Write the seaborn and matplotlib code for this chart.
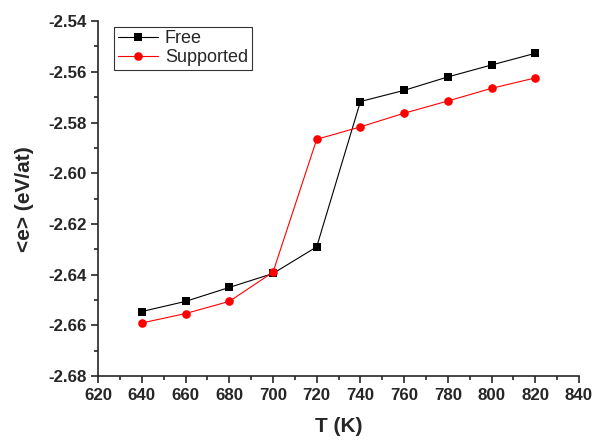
import pandas as pd
import matplotlib
matplotlib.use("Agg")
import matplotlib.pyplot as plt
import seaborn as sns
from matplotlib.ticker import MultipleLocator

temps = [640, 660, 680, 700, 720, 740, 760, 780, 800, 820]
free = [-2.6545, -2.6505, -2.645, -2.6395, -2.629, -2.5717, -2.5673, -2.562, -2.5573, -2.5527]
supported = [-2.659, -2.6553, -2.6505, -2.639, -2.5866, -2.5817, -2.5763, -2.5715, -2.5665, -2.5624]

df = pd.DataFrame({
    "T": temps * 2,
    "e": free + supported,
    "kind": ["Free"] * len(temps) + ["Supported"] * len(temps),
})

sns.set_style("ticks")
plt.rcParams['font.family'] = ['Liberation Sans', 'DejaVu Sans']

fig = plt.figure(figsize=(5.95, 4.4), dpi=100)
ax = fig.add_axes([0.165, 0.145, 0.808, 0.807])

sns.lineplot(data=df, x="T", y="e", hue="kind", style="kind",
             palette={"Free": "black", "Supported": "red"},
             markers={"Free": "s", "Supported": "o"}, dashes=False,
             markersize=6.2, linewidth=0.8, markeredgewidth=0, ax=ax)

ax.set_xlim(620, 840)
ax.set_ylim(-2.68, -2.54)
ax.xaxis.set_major_locator(MultipleLocator(20))
ax.xaxis.set_minor_locator(MultipleLocator(10))
ax.yaxis.set_major_locator(MultipleLocator(0.02))
ax.yaxis.set_minor_locator(MultipleLocator(0.01))
ax.yaxis.set_major_formatter(plt.FuncFormatter(lambda v, p: f"{v:.2f}"))
ax.tick_params(which="major", direction="out", length=5, width=1.2, labelsize=12.2)
ax.tick_params(which="minor", direction="out", length=3, width=1.2)
for lab in ax.get_xticklabels() + ax.get_yticklabels():
    lab.set_fontweight("bold")
for s in ["left", "bottom"]:
    ax.spines[s].set_linewidth(1.2)
sns.despine(ax=ax)

ax.set_xlabel("T (K)", fontsize=15, fontweight="bold", labelpad=10)
ax.set_ylabel("<e> (eV/at)", fontsize=15, fontweight="bold", labelpad=10)

leg = ax.legend(loc="upper left", bbox_to_anchor=(0.015, 1.01), fontsize=13,
                frameon=True, fancybox=False, edgecolor="black",
                borderpad=0.2, handlelength=2.2, handletextpad=0.4, labelspacing=0.1)
leg.get_frame().set_linewidth(0.8)

fig.savefig("out.png", dpi=100)
